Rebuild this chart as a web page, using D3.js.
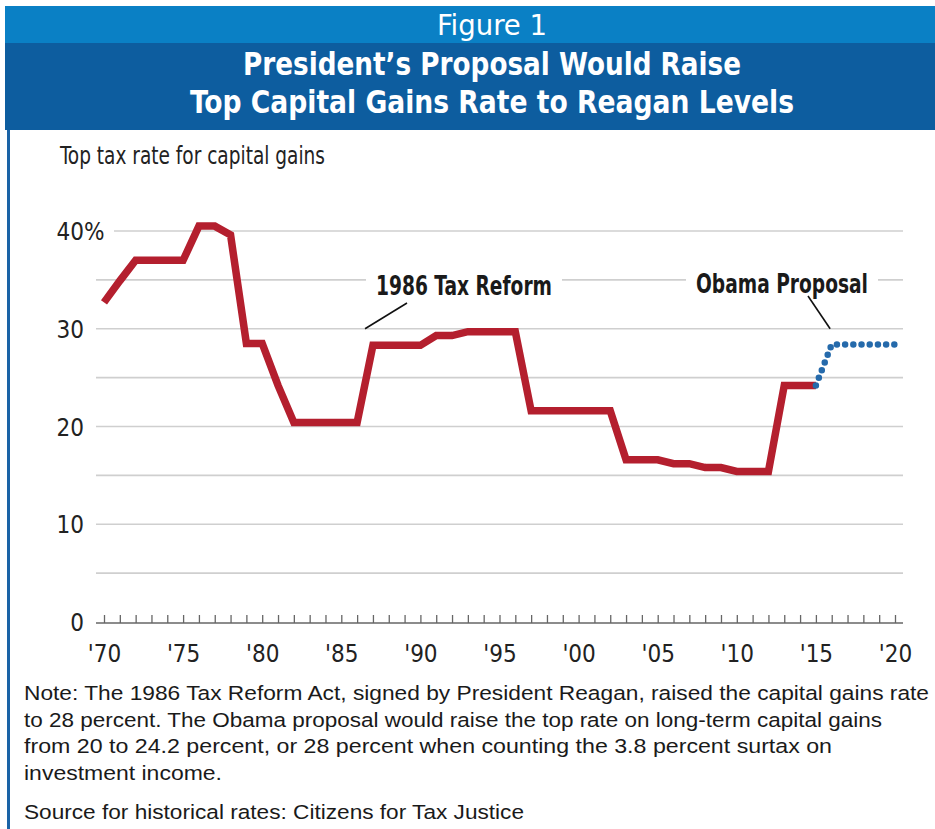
<!DOCTYPE html>
<html>
<head>
<meta charset="utf-8">
<script src="https://cdn.jsdelivr.net/npm/d3@7"></script>
<style>
  body { margin: 0; background: #fff; }
  svg { display: block; }
  .cond { font-family: "Liberation Sans Narrow", "Arial Narrow", "DejaVu Sans Condensed", sans-serif; }
  .note { font-family: "Liberation Sans", Arial, sans-serif; }
</style>
</head>
<body>
<svg id="chart"></svg>
<script>
// historical top capital gains rates
const years = [1970, 1971, 1972, 1973, 1974, 1975, 1976, 1977, 1978, 1979,
               1980, 1981, 1982, 1983, 1984, 1985, 1986, 1987, 1988, 1989,
               1990, 1991, 1992, 1993, 1994, 1995, 1996, 1997, 1998, 1999,
               2000, 2001, 2002, 2003, 2004, 2005, 2006, 2007, 2008, 2009,
               2010, 2011, 2012, 2013, 2014, 2015];
const rates = [32.7, 34.9, 37.0, 37.0, 37.0, 37.0, 40.5, 40.5, 39.6, 28.5,
               28.5, 24.2, 20.4, 20.4, 20.4, 20.4, 20.4, 28.3, 28.3, 28.3,
               28.3, 29.3, 29.3, 29.7, 29.7, 29.7, 29.7, 21.6, 21.6, 21.6,
               21.6, 21.6, 21.6, 16.6, 16.6, 16.6, 16.2, 16.2, 15.8, 15.8,
               15.4, 15.4, 15.4, 24.2, 24.2, 24.2];

// Obama proposal (dotted)
const proposalYears = [2015, 2016, 2017, 2018, 2019, 2020];
const proposalRates = [24.2, 28.4, 28.4, 28.4, 28.4, 28.4];

const yLabelValues = [0, 10, 20, 30, 40];
const gridValues = [5, 10, 15, 20, 25, 30, 35, 40];
const xLabelYears = [1970, 1975, 1980, 1985, 1990, 1995, 2000, 2005, 2010, 2015, 2020];

const noteLines = [
    "Note: The 1986 Tax Reform Act, signed by President Reagan, raised the capital gains rate",
    "to 28 percent. The Obama proposal would raise the top rate on long-term capital gains",
    "from 20 to 24.2 percent, or 28 percent when counting the 3.8 percent surtax on",
    "investment income."
];
const noteWidths = [905, 858, 808, 198];
const sourceText = "Source for historical rates: Citizens for Tax Justice";

const width = 935, height = 829;

const svg = d3.select("#chart")
    .attr("width", width)
    .attr("height", height);

// header bands
svg.append("rect")
    .attr("x", 5).attr("y", 6)
    .attr("width", width - 5).attr("height", 37)
    .attr("fill", "#0a80c5");
svg.append("rect")
    .attr("x", 5).attr("y", 43)
    .attr("width", width - 5).attr("height", 87)
    .attr("fill", "#0d5d9f");
// left border
svg.append("rect")
    .attr("x", 7).attr("y", 130)
    .attr("width", 3).attr("height", height - 130)
    .attr("fill", "#1a63a6");

svg.append("text")
    .attr("class", "cond")
    .attr("x", 492).attr("y", 35)
    .attr("text-anchor", "middle")
    .attr("fill", "#fff")
    .style("font-size", "29px")
    .attr("textLength", 110)
    .attr("lengthAdjust", "spacingAndGlyphs")
    .text("Figure 1");

[["President\u2019s Proposal Would Raise", 75, 498],
 ["Top Capital Gains Rate to Reagan Levels", 113, 604]].forEach(([t, yy, w]) => {
    svg.append("text")
        .attr("class", "cond")
        .attr("x", 492).attr("y", yy)
        .attr("text-anchor", "middle")
        .attr("fill", "#fff")
        .style("font-size", "32px")
        .style("font-weight", "bold")
        .attr("textLength", w)
        .attr("lengthAdjust", "spacingAndGlyphs")
        .text(t);
});

// scales
const x = d3.scaleLinear().domain([1970, 2020]).range([104, 895]);
const y = d3.scaleLinear().domain([0, 40]).range([622, 231]);

svg.append("text")
    .attr("class", "cond")
    .attr("x", 60).attr("y", 164)
    .attr("fill", "#222")
    .style("font-size", "24px")
    .attr("textLength", 265)
    .attr("lengthAdjust", "spacingAndGlyphs")
    .text("Top tax rate for capital gains");

// gridlines
svg.append("g")
    .selectAll("line")
    .data(gridValues)
    .join("line")
    .attr("x1", d => d === 40 ? x(1970) + 10 : x(1970) - 8)
    .attr("x2", x(2020) + 8)
    .attr("y1", d => y(d))
    .attr("y2", d => y(d))
    .attr("stroke", "#cfcfcf")
    .attr("stroke-width", 1.6);

// y labels
const yl = svg.append("g").attr("class", "cond")
    .style("font-size", "24px").attr("fill", "#222");
yl.selectAll("text")
    .data(yLabelValues)
    .join("text")
    .attr("x", 84)
    .attr("y", d => y(d) + 9)
    .attr("text-anchor", "end")
    .text(d => d);
yl.append("text")
    .attr("x", 84)
    .attr("y", y(40) + 9)
    .text("%");

// x axis: yearly ticks pointing up
const allYears = d3.range(1970, 2021);
const xAxisG = svg.append("g")
    .attr("transform", `translate(0,${y(0) + 1})`)
    .call(d3.axisBottom(x).tickValues(allYears).tickSizeInner(-8).tickSizeOuter(0).tickFormat(""));
xAxisG.select(".domain").remove();
xAxisG.selectAll(".tick line").attr("stroke", "#666").attr("stroke-width", 1.3);
xAxisG.append("line")
    .attr("x1", x(1970) - 8).attr("x2", x(2020) + 8)
    .attr("stroke", "#666").attr("stroke-width", 1.6);

const xLabels = svg.append("g")
    .attr("transform", `translate(0,${y(0) + 1})`)
    .call(d3.axisBottom(x).tickValues(xLabelYears).tickSize(0).tickPadding(22)
        .tickFormat(d => "'" + String(d).slice(2)));
xLabels.select(".domain").remove();
xLabels.selectAll("text")
    .attr("class", "cond")
    .style("font-size", "24px")
    .attr("fill", "#222");

// historical line
const line = d3.line()
    .x(d => x(d[0]))
    .y(d => y(d[1]));

svg.append("path")
    .datum(years.map((yr, i) => [yr, rates[i]]))
    .attr("d", line)
    .attr("fill", "none")
    .attr("stroke", "#b41f2e")
    .attr("stroke-width", 7.5)
    .attr("stroke-linejoin", "miter");

// proposal dotted line
svg.append("path")
    .datum(proposalYears.map((yr, i) => [yr, proposalRates[i]]))
    .attr("d", line)
    .attr("fill", "none")
    .attr("stroke", "#256aab")
    .attr("stroke-width", 6.5)
    .attr("stroke-linecap", "round")
    .attr("stroke-dasharray", "0,8.2");

// annotations
function annotate(label, cx, by, w, from, to) {
    svg.append("rect")
        .attr("x", cx - w / 2 - 10).attr("y", by - 22)
        .attr("width", w + 20).attr("height", 28)
        .attr("fill", "#fff");
    svg.append("text")
        .attr("class", "cond")
        .attr("x", cx).attr("y", by)
        .attr("text-anchor", "middle")
        .attr("fill", "#1a1a1a")
        .style("font-size", "26px")
        .style("font-weight", "bold")
        .attr("textLength", w)
        .attr("lengthAdjust", "spacingAndGlyphs")
        .text(label);
    svg.append("line")
        .attr("x1", from[0]).attr("y1", from[1])
        .attr("x2", to[0]).attr("y2", to[1])
        .attr("stroke", "#111").attr("stroke-width", 1.6);
}
annotate("1986 Tax Reform", 464, 295, 176, [407, 303], [x(1986.5), y(30)]);
annotate("Obama Proposal", 782, 293, 172, [808, 296], [x(2015.9), y(30)]);

// notes
const notes = svg.append("g").attr("class", "note")
    .style("font-size", "20.5px").attr("fill", "#1a1a1a");
notes.selectAll("text")
    .data(noteLines)
    .join("text")
    .attr("x", 24)
    .attr("y", (d, i) => 700 + i * 26.5)
    .attr("textLength", (d, i) => noteWidths[i])
    .attr("lengthAdjust", "spacingAndGlyphs")
    .text(d => d);
notes.append("text")
    .attr("x", 24).attr("y", 819)
    .attr("textLength", 500)
    .attr("lengthAdjust", "spacingAndGlyphs")
    .text(sourceText);
</script>
</body>
</html>
